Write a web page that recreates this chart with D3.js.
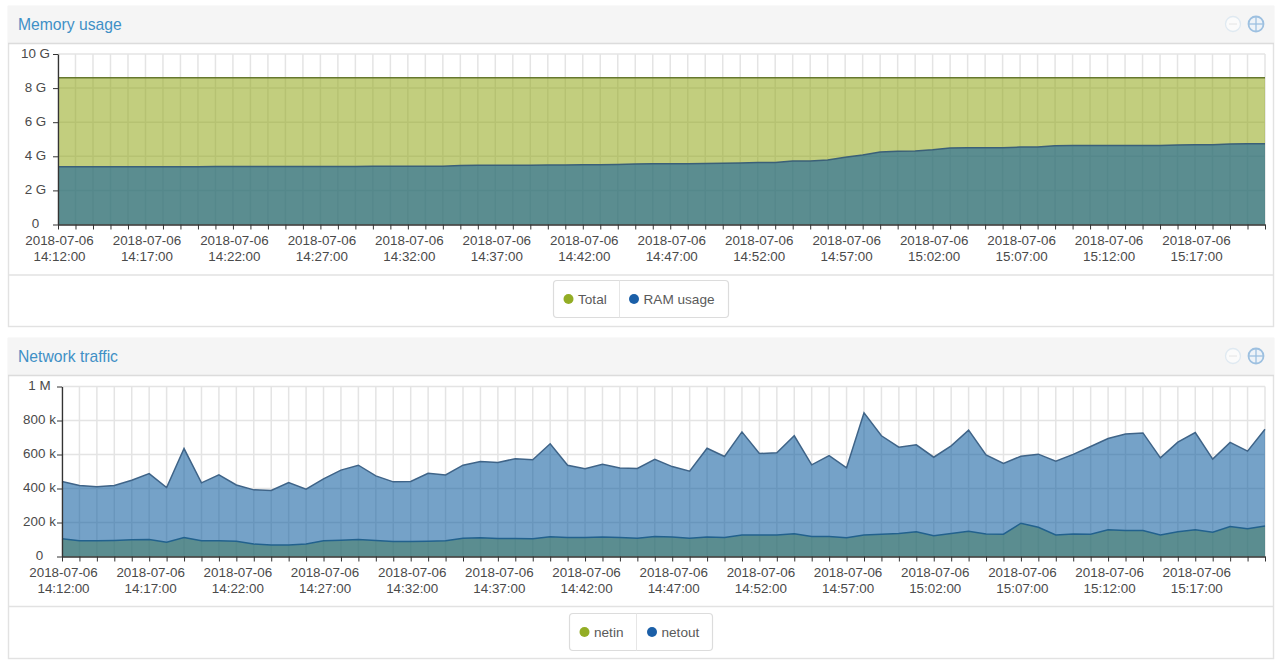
<!DOCTYPE html>
<html><head><meta charset="utf-8">
<script src="https://cdn.jsdelivr.net/npm/d3@7/dist/d3.min.js"></script>
<style>
html,body{margin:0;padding:0;background:#fff;overflow:hidden}
text{font-family:"Liberation Sans",Arial,sans-serif}
</style></head><body><svg id="c" width="1280" height="665"></svg>
<script>
const startTime = "2018-07-06 14:12:00";
const pointCount = 70;
const labelEvery = 5;

const memTitle = "Memory usage";
const memNames = ["Total", "RAM usage"];
const memTicks = [0, 2, 4, 6, 8, 10];
const memTickLabels = ["0", "2 G", "4 G", "6 G", "8 G", "10 G"];
const memTotal = [8.61,8.61,8.61,8.61,8.61,8.61,8.61,8.61,8.61,8.61,8.61,8.61,8.61,8.61,8.61,8.61,8.61,8.61,8.61,8.61,8.61,8.61,8.61,8.61,8.61,8.61,8.61,8.61,8.61,8.61,8.61,8.61,8.61,8.61,8.61,8.61,8.61,8.61,8.61,8.61,8.61,8.61,8.61,8.61,8.61,8.61,8.61,8.61,8.61,8.61,8.61,8.61,8.61,8.61,8.61,8.61,8.61,8.61,8.61,8.61,8.61,8.61,8.61,8.61,8.61,8.61,8.61,8.61,8.61,8.61];
const memRam = [3.39,3.39,3.39,3.39,3.39,3.39,3.39,3.39,3.39,3.40,3.40,3.40,3.40,3.40,3.40,3.40,3.40,3.40,3.41,3.42,3.42,3.42,3.42,3.46,3.47,3.47,3.48,3.48,3.49,3.49,3.50,3.51,3.52,3.55,3.57,3.57,3.57,3.58,3.59,3.61,3.63,3.64,3.73,3.73,3.78,3.95,4.07,4.25,4.29,4.31,4.38,4.48,4.50,4.50,4.50,4.54,4.54,4.62,4.64,4.64,4.64,4.64,4.64,4.64,4.66,4.68,4.68,4.72,4.74,4.74];

const netTitle = "Network traffic";
const netNames = ["netin", "netout"];
const netTicks = [0, 200, 400, 600, 800, 1000];
const netTickLabels = ["0", "200 k", "400 k", "600 k", "800 k", "1 M"];
const netIn = [104,92,92,94,98,100,84,112,92,92,90,73,67,68,74,92,96,100,94,88,88,90,92,108,110,106,106,104,116,112,112,114,112,108,118,114,108,114,112,126,126,126,134,118,118,110,127,131,135,145,122,135,149,133,131,196,172,127,133,131,157,153,153,127,145,157,143,176,163,180];
const netOut = [441,418,410,418,449,488,406,635,433,480,421,392,388,435,396,457,508,537,474,439,441,490,480,537,559,553,575,569,663,537,516,543,520,518,571,529,502,637,588,733,606,610,710,539,594,522,845,710,643,657,584,651,743,598,547,590,602,561,601,647,694,720,727,580,673,729,573,671,620,749];

const oliveFill = "#94a91c", blueFill = "#0c5c9e";
const svg = d3.select("#c");
const parse = d3.timeParse("%Y-%m-%d %H:%M:%S");
const t0 = parse(startTime);
const times = d3.range(pointCount).map(i => d3.timeMinute.offset(t0, i));
const fmtDate = d3.timeFormat("%Y-%m-%d"), fmtTime = d3.timeFormat("%H:%M:%S");

function panel(o) {
  const g = svg.append("g");
  g.append("rect").attr("x", 8.5).attr("y", o.top + .5).attr("width", 1265).attr("height", o.h)
    .attr("fill", "#fff").attr("stroke", "#e2e2e2").attr("stroke-width", 1.4);
  g.append("rect").attr("x", 8).attr("y", o.top).attr("width", 1266).attr("height", 37.5)
    .attr("fill", "#f5f5f5").attr("stroke", "none");
  g.append("line").attr("x1", 8).attr("x2", 1274).attr("y1", o.top + 37.5).attr("y2", o.top + 37.5).attr("stroke", "#dcdcdc").attr("stroke-width", 1.3);
  g.append("line").attr("x1", 8).attr("x2", 1274).attr("y1", o.footY).attr("y2", o.footY).attr("stroke", "#e2e2e2").attr("stroke-width", 1.4);
  g.append("text").attr("x", 18).attr("y", o.top + 23.5).attr("fill", "#3f90c6").attr("font-size", 15.7).text(o.title);

  const iy = o.top + 18;
  g.append("circle").attr("cx", 1233).attr("cy", iy).attr("r", 7.5).attr("fill", "#fbfbfb").attr("stroke", "#dfe9f1").attr("stroke-width", 1.3);
  g.append("line").attr("x1", 1229).attr("x2", 1237).attr("y1", iy).attr("y2", iy).attr("stroke", "#e4e4e4");
  g.append("circle").attr("cx", 1256).attr("cy", iy).attr("r", 7.5).attr("fill", "#eef3f8").attr("stroke", "#9dc0e0").attr("stroke-width", 1.8);
  g.append("line").attr("x1", 1256).attr("x2", 1256).attr("y1", iy - 7).attr("y2", iy + 7).attr("stroke", "#9dc0e0").attr("stroke-width", 1.3);
  g.append("line").attr("x1", 1249).attr("x2", 1263).attr("y1", iy).attr("y2", iy).attr("stroke", "#9dc0e0").attr("stroke-width", 1.3);

  const x = d3.scaleTime().domain([times[0], times[pointCount - 1]]).range([o.x0, 1265]);
  const y = d3.scaleLinear().domain([o.ticks[0], o.ticks[o.ticks.length - 1]]).range([o.y0, o.y1]);

  const grid = g.append("g").attr("stroke", "#e4e4e4").attr("stroke-width", 1.5);
  grid.selectAll(".v").data(times).join("line").attr("x1", d => x(d)).attr("x2", d => x(d)).attr("y1", o.y0).attr("y2", o.y1);
  grid.selectAll(".h").data(o.ticks).join("line").attr("x1", o.x0).attr("x2", 1265).attr("y1", d => y(d)).attr("y2", d => y(d));

  o.series.forEach(s => {
    const area = d3.area().x((d, i) => x(times[i])).y0(o.y0).y1(d => y(d));
    g.append("path").datum(s.values).attr("d", area).attr("fill", s.fill).attr("fill-opacity", .57);
    const line = d3.line().x((d, i) => x(times[i])).y(d => y(d));
    g.append("path").datum(s.values).attr("d", line).attr("fill", "none").attr("stroke", s.stroke).attr("stroke-width", 1.5);
  });

  const xAxis = d3.axisBottom(x).tickValues(times).tickSize(5).tickSizeOuter(0).tickFormat("");
  const ax = g.append("g").attr("transform", `translate(0,${o.y0})`).call(xAxis);
  ax.select(".domain").attr("stroke", "#333").attr("stroke-width", 1.3);
  ax.selectAll(".tick line").attr("stroke", "#333");
  const labelled = times.filter((d, i) => i % labelEvery === 0);
  const lab = g.append("g").attr("font-size", 13.4).attr("fill", "#4a4a4a").attr("text-anchor", "middle");
  lab.selectAll(".d").data(labelled).join("text").attr("x", d => x(d) + 1.5).attr("y", o.y0 + 20.5).text(fmtDate);
  lab.selectAll(".t").data(labelled).join("text").attr("x", d => x(d) + 1.5).attr("y", o.y0 + 36.5).text(fmtTime);

  const yAxis = d3.axisLeft(y).tickValues(o.ticks).tickSize(5).tickSizeOuter(0).tickFormat("");
  const ay = g.append("g").attr("transform", `translate(${o.x0},0)`).call(yAxis);
  ay.select(".domain").attr("stroke", "#333").attr("stroke-width", 1.3);
  ay.selectAll(".tick line").attr("stroke", "#333");
  g.append("g").attr("font-size", 13.4).attr("fill", "#4a4a4a").attr("text-anchor", "middle")
    .selectAll("text").data(o.ticks).join("text")
    .attr("x", o.x0 - 22.5).attr("y", d => y(d) + 3.5).text((d, i) => o.labels[i]);

  const L = o.legend;
  g.append("rect").attr("x", L.x).attr("y", L.y).attr("width", L.w).attr("height", 37).attr("rx", 3.5)
    .attr("fill", "#fff").attr("stroke", "#dcdcdc").attr("stroke-width", 1.2);
  g.append("line").attr("x1", L.div).attr("x2", L.div).attr("y1", L.y).attr("y2", L.y + 37).attr("stroke", "#e6e6e6");
  L.items.forEach((it, i) => {
    g.append("circle").attr("cx", it.dot).attr("cy", L.y + 18.5).attr("r", 5).attr("fill", i ? "#1b5fa8" : "#93ad25");
    g.append("text").attr("x", it.dot + 9.5).attr("y", L.y + 23).attr("font-size", 13.6).attr("fill", "#5a5a5a").text(it.name);
  });
}

panel({ top: 6, h: 320, footY: 275, title: memTitle, x0: 58, y0: 224.5, y1: 54, ticks: memTicks, labels: memTickLabels,
  series: [{ values: memTotal, fill: oliveFill, stroke: "#66782e" }, { values: memRam, fill: blueFill, stroke: "#3b6078" }],
  legend: { x: 553.5, y: 280.5, w: 175, div: 619.5, items: [{ dot: 568.5, name: memNames[0] }, { dot: 634, name: memNames[1] }] } });

panel({ top: 338, h: 320, footY: 606.5, title: netTitle, x0: 62, y0: 556.5, y1: 386.5, ticks: netTicks, labels: netTickLabels,
  series: [{ values: netIn, fill: oliveFill, stroke: "#3f6a78" }, { values: netOut, fill: blueFill, stroke: "#3f6488" }],
  legend: { x: 569.5, y: 613.5, w: 143, div: 636.5, items: [{ dot: 584.5, name: netNames[0] }, { dot: 652, name: netNames[1] }] } });
</script></body></html>
